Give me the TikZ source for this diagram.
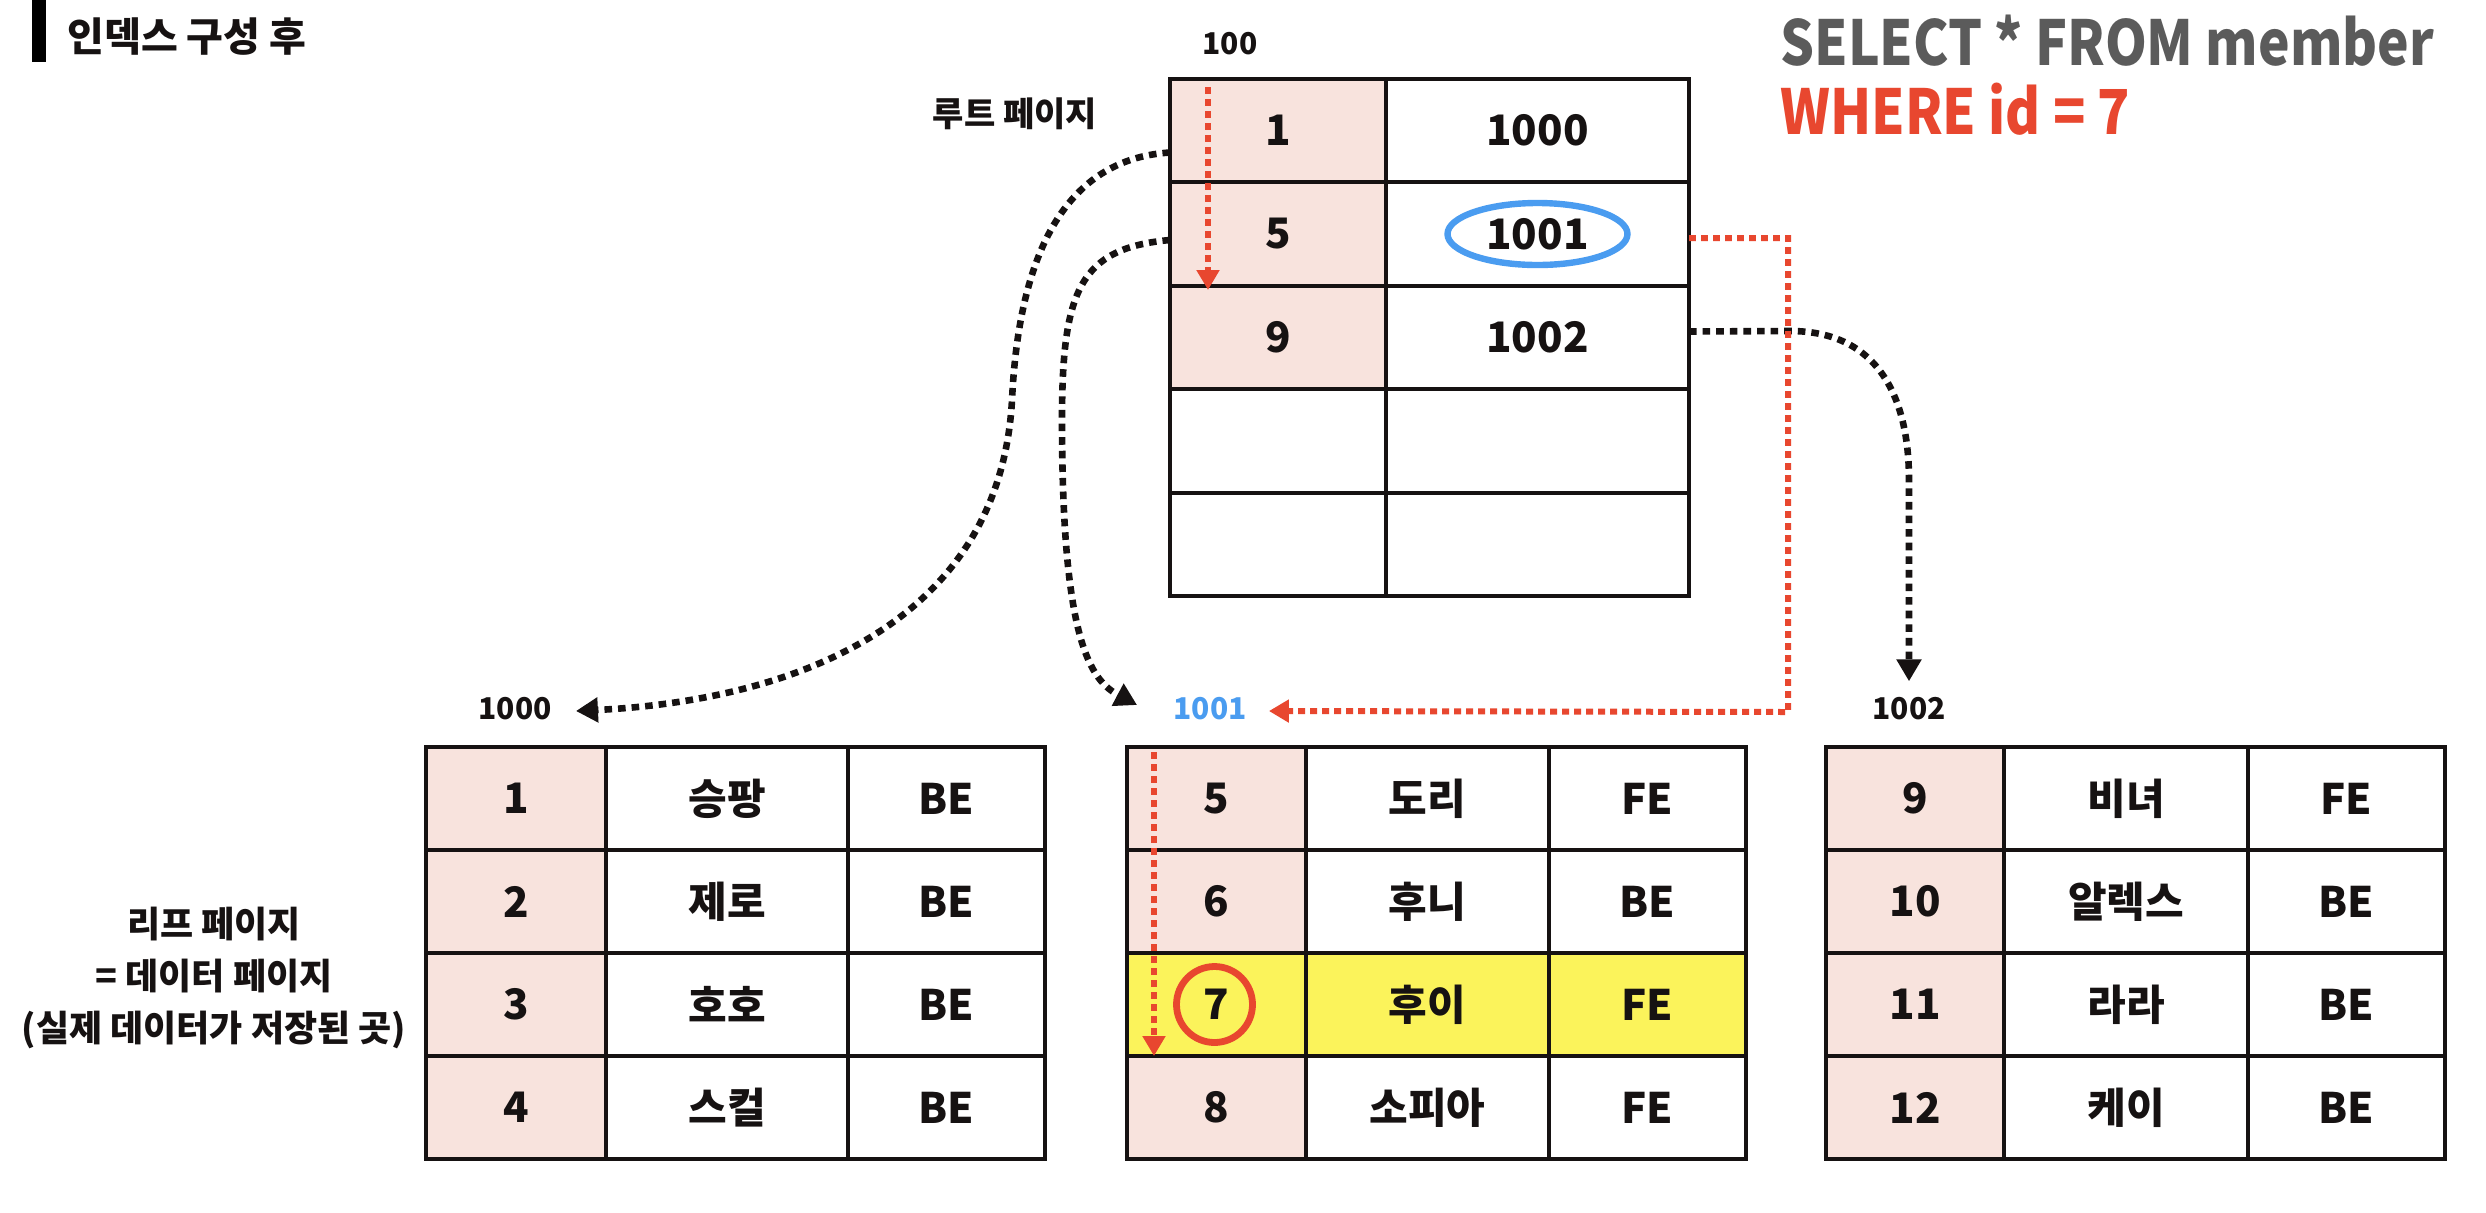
\documentclass[tikz,border=0pt]{standalone}
\usepackage{fontspec}
\setmainfont{Noto Sans CJK KR}[BoldFont={Noto Sans CJK KR Black}]
\newfontfamily\condf{Noto Sans CJK KR}[BoldFont={Noto Sans CJK KR Black},FakeStretch=0.86]
\usetikzlibrary{arrows.meta,shapes.geometric}
\definecolor{pinkc}{HTML}{F8E3DD}
\definecolor{yelc}{HTML}{FBF35B}
\definecolor{redc}{HTML}{E8472F}
\definecolor{bluec}{HTML}{4A9CF0}
\definecolor{grayc}{HTML}{5B5B5B}
\definecolor{txt}{HTML}{161212}
\newcommand\fCell{\bfseries\fontsize{21}{21}\selectfont}
\newcommand\fLbl{\bfseries\fontsize{15}{15}\selectfont}
\newcommand\fKor{\bfseries\fontsize{17}{17}\selectfont}
\newcommand\fSide{\bfseries\fontsize{18}{26}\selectfont}
\newcommand\fTitle{\bfseries\fontsize{20}{20}\selectfont}
\newcommand\fSql{\condf\bfseries\fontsize{31}{31}\selectfont}
\newcommand{\Cell}[7]{\node[cellbox, fill=#6, minimum width={(#4-#2)*0.5pt}, minimum height={(#5-#3)*0.5pt}] (#1) at ({(#2+#4)/2},{(#3+#5)/2}) {#7};}
\tikzset{
 cellbox/.style={draw=txt, line width=1.6pt, inner sep=0pt, outer sep=0pt, text=txt, font=\fCell},
 lbl/.style={inner sep=0pt, text=txt, font=\fLbl},
 blkdot/.style={draw=txt, line width=3.3pt, dash pattern=on 3.8pt off 3pt, -{Triangle[length=11pt,width=12pt]}},
 reddot/.style={draw=redc, line width=3pt, dash pattern=on 3.4pt off 2.6pt, -{Triangle[length=10pt,width=11pt]}},
}
\begin{document}
\begin{tikzpicture}[x=0.5pt,y=-0.5pt]
\useasboundingbox[fill=white] (0,0) rectangle (2486,1212);

% title
\node[fill=black, inner sep=0pt, minimum width=7pt, minimum height=31pt, anchor=north west] (bar) at (32,0) {};
\node[anchor=west, inner sep=0pt, text=txt, font=\fTitle] (title) at (67,37) {인덱스 구성 후};

% SQL
\node[anchor=west, inner sep=0pt, text=grayc, font=\fSql] (sql1) at (1780,41) {SELECT * FROM member};
\node[anchor=west, inner sep=0pt, text=redc, font=\fSql] (sql2) at (1780,109) {WHERE id = 7};

% root page
\node[lbl] (l100) at (1230,44) {100};
\node[inner sep=0pt, text=txt, font=\fKor] (lroot) at (1015,114) {루트 페이지};
\Cell{r1k}{1170}{79}{1386}{182}{pinkc}{1}
\Cell{r1v}{1386}{79}{1689}{182}{white}{1000}
\Cell{r2k}{1170}{182}{1386}{286}{pinkc}{5}
\Cell{r2v}{1386}{182}{1689}{286}{white}{1001}
\Cell{r3k}{1170}{286}{1386}{389}{pinkc}{9}
\Cell{r3v}{1386}{286}{1689}{389}{white}{1002}
\Cell{r4k}{1170}{389}{1386}{493}{white}{}
\Cell{r4v}{1386}{389}{1689}{493}{white}{}
\Cell{r5k}{1170}{493}{1386}{596}{white}{}
\Cell{r5v}{1386}{493}{1689}{596}{white}{}

% leaf labels
\node[lbl] (l1000) at (515,709) {1000};
\node[lbl, text=bluec] (l1001) at (1210,709) {1001};
\node[lbl] (l1002) at (1909,709) {1002};
\node[align=center, inner sep=0pt, text=txt, font=\fSide] (side) at (214,978) {리프 페이지\\= 데이터 페이지\\(실제 데이터가 저장된 곳)};

% leaf A
\Cell{a1k}{426}{747}{606}{850}{pinkc}{1}
\Cell{a1n}{606}{747}{848}{850}{white}{승팡}
\Cell{a1p}{848}{747}{1045}{850}{white}{BE}
\Cell{a2k}{426}{850}{606}{953}{pinkc}{2}
\Cell{a2n}{606}{850}{848}{953}{white}{제로}
\Cell{a2p}{848}{850}{1045}{953}{white}{BE}
\Cell{a3k}{426}{953}{606}{1056}{pinkc}{3}
\Cell{a3n}{606}{953}{848}{1056}{white}{호호}
\Cell{a3p}{848}{953}{1045}{1056}{white}{BE}
\Cell{a4k}{426}{1056}{606}{1159}{pinkc}{4}
\Cell{a4n}{606}{1056}{848}{1159}{white}{스컬}
\Cell{a4p}{848}{1056}{1045}{1159}{white}{BE}

% leaf B
\Cell{b1k}{1127}{747}{1306}{850}{pinkc}{5}
\Cell{b1n}{1306}{747}{1549}{850}{white}{도리}
\Cell{b1p}{1549}{747}{1746}{850}{white}{FE}
\Cell{b2k}{1127}{850}{1306}{953}{pinkc}{6}
\Cell{b2n}{1306}{850}{1549}{953}{white}{후니}
\Cell{b2p}{1549}{850}{1746}{953}{white}{BE}
\Cell{b3k}{1127}{953}{1306}{1056}{yelc}{7}
\Cell{b3n}{1306}{953}{1549}{1056}{yelc}{후이}
\Cell{b3p}{1549}{953}{1746}{1056}{yelc}{FE}
\Cell{b4k}{1127}{1056}{1306}{1159}{pinkc}{8}
\Cell{b4n}{1306}{1056}{1549}{1159}{white}{소피아}
\Cell{b4p}{1549}{1056}{1746}{1159}{white}{FE}

% leaf C
\Cell{c1k}{1826}{747}{2004}{850}{pinkc}{9}
\Cell{c1n}{2004}{747}{2248}{850}{white}{비녀}
\Cell{c1p}{2248}{747}{2445}{850}{white}{FE}
\Cell{c2k}{1826}{850}{2004}{953}{pinkc}{10}
\Cell{c2n}{2004}{850}{2248}{953}{white}{알렉스}
\Cell{c2p}{2248}{850}{2445}{953}{white}{BE}
\Cell{c3k}{1826}{953}{2004}{1056}{pinkc}{11}
\Cell{c3n}{2004}{953}{2248}{1056}{white}{라라}
\Cell{c3p}{2248}{953}{2445}{1056}{white}{BE}
\Cell{c4k}{1826}{1056}{2004}{1159}{pinkc}{12}
\Cell{c4n}{2004}{1056}{2248}{1159}{white}{케이}
\Cell{c4p}{2248}{1056}{2445}{1159}{white}{BE}

% highlights
\node[ellipse, draw=bluec, line width=3.2pt, inner sep=0pt, minimum width=90pt, minimum height=31pt] (ell) at (r2v.center) {};
\node[circle, draw=redc, line width=3.4pt, inner sep=0pt, minimum size=38pt] (circ7) at ([xshift=-1pt]b3k.center) {};

% connectors
\draw[blkdot] ([yshift=-11pt]r1k.west) .. controls (1080,158) and (1020,230) .. (1012,400) .. controls (1000,620) and (800,700) .. ([xshift=12pt,yshift=-1pt]l1000.east);
\draw[blkdot] ([yshift=-3pt]r2k.west) .. controls (1080,248) and (1062,290) .. (1062,420) .. controls (1062,640) and (1090,680) .. ([xshift=-18pt,yshift=2pt]l1001.west);
\draw[blkdot] ([yshift=3pt]r3v.east) -- (1790,331) .. controls (1880,331) and (1909,400) .. (1909,480) -- ([yshift=8pt]l1002.north);
\draw[reddot] ([yshift=-2pt]r2v.east) -- (1788,238) -- (1788,712) -- ([xshift=11pt,yshift=-1pt]l1001.east);
\coordinate (rs1) at (1208,87);
\coordinate (re1) at (1208,290);
\draw[reddot] (rs1) -- (re1);
\coordinate (rs2) at (1154,752);
\coordinate (re2) at (1154,1056);
\draw[reddot] (rs2) -- (re2);
\end{tikzpicture}
\end{document}
